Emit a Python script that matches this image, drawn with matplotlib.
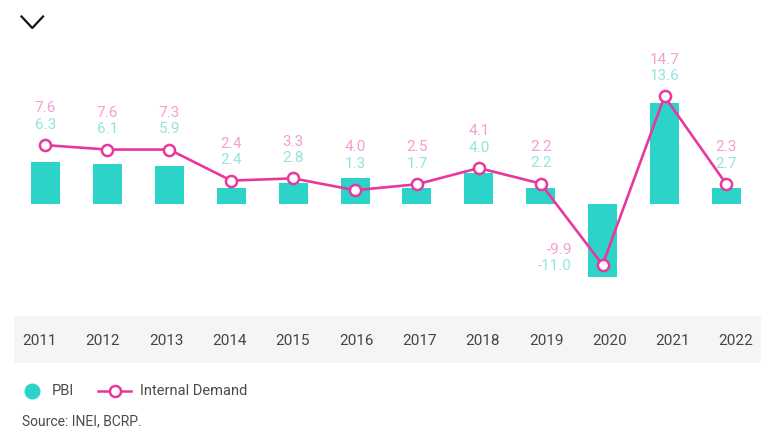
import matplotlib
matplotlib.use("Agg")
import matplotlib.pyplot as plt
from matplotlib.lines import Line2D

# ---- data ----
years = ["2011", "2012", "2013", "2014", "2015", "2016",
         "2017", "2018", "2019", "2020", "2021", "2022"]
pbi = [5.6, 5.3, 5.1, 2.1, 2.8, 3.5, 2.1, 4.1, 2.1, -10.0, 13.6, 2.1]
internal_demand = [7.9, 7.3, 7.3, 3.1, 3.4, 1.8, 2.6, 4.8, 2.7, -8.3, 14.5, 2.6]
pbi_labels = ["6.3", "6.1", "5.9", "2.4", "2.8", "1.3", "1.7", "4.0", "2.2", "-11.0", "13.6", "2.7"]
dd_labels = ["7.6", "7.6", "7.3", "2.4", "3.3", "4.0", "2.5", "4.1", "2.2", "-9.9", "14.7", "2.3"]

TEAL = "#2bd3c8"
PINK = "#e8389e"
TEAL_LBL = "#93e4df"
PINK_LBL = "#f49fcf"
FONT = ["Roboto", "DejaVu Sans"]

W, H = 761, 429
fig = plt.figure(figsize=(W / 100, H / 100), dpi=100)
plt.rcParams["font.family"] = FONT

def px_rect(x0, y0, x1, y1):
    return [x0 / W, (H - y1) / H, (x1 - x0) / W, (y1 - y0) / H]

# ---- main chart axes ----
ax = fig.add_axes(px_rect(0, 30, W, 310))
unit = 61.9
x0px = 45.5
ax.set_xlim(-x0px / unit, (W - x0px) / unit)
scale = 7.39
zero = 203.5 - 30
ax.set_ylim(-(280 - zero) / scale, zero / scale)
ax.axis("off")

xs = list(range(len(years)))
ax.bar(xs, pbi, width=29 / unit, color=TEAL, zorder=2)
ax.plot(xs, internal_demand, color=PINK, lw=1.9, marker="o", ms=8,
        mfc="white", mec=PINK, mew=1.8, zorder=3)

LBL = dict(textcoords="offset points", va="center", fontsize=11)
for i in xs:
    b, d = pbi[i], internal_demand[i]
    if b < 0 and d < 0:
        ax.annotate(pbi_labels[i], (i, d), xytext=(-22, -1), ha="right",
                    color=TEAL_LBL, **LBL)
        ax.annotate(dd_labels[i], (i, d), xytext=(-22, 11), ha="right",
                    color=PINK_LBL, **LBL)
        continue
    anchor = max(b, d)
    off = 10 + (4.5 if d >= b else 0)
    ax.annotate(pbi_labels[i], (i, anchor), xytext=(0, off), ha="center",
                color=TEAL_LBL, **LBL)
    ax.annotate(dd_labels[i], (i, anchor), xytext=(0, off + 12), ha="center",
                color=PINK_LBL, **LBL)

# ---- year band ----
bx = fig.add_axes(px_rect(14, 316, W, 363))
bx.set_facecolor("#f5f5f5")
u2 = 63.3
bx.set_xlim(-(39.7 - 14) / u2, (W - 39.7) / u2)
bx.set_ylim(0, 1)
for s in bx.spines.values():
    s.set_visible(False)
bx.set_xticks([])
bx.set_yticks([])
for i, y in enumerate(years):
    bx.text(i, 0.46, y, ha="center", va="center", color="#444444", fontsize=11)

# ---- overlay for decorations ----
ov = fig.add_axes([0, 0, 1, 1])
ov.set_xlim(0, W)
ov.set_ylim(H, 0)
ov.axis("off")
ov.patch.set_alpha(0)

# chevron
ov.add_line(Line2D([21.5, 32.3, 43], [16.5, 28, 16.5], color="#111111", lw=1.6))

# legend
ov.plot([32], [390.5], marker="o", ms=10.5, color=TEAL, mec=TEAL)
ov.text(52, 391, "PBI", ha="left", va="center", color="#4a4a4a", fontsize=10.5)
ov.add_line(Line2D([98, 131], [390.5, 390.5], color=PINK, lw=1.8))
ov.plot([115], [390.5], marker="o", ms=8, mfc="white", mec=PINK, mew=1.8)
ov.text(140, 391, "Internal Demand", ha="left", va="center", color="#4a4a4a",
        fontsize=10.5)

# source
ov.text(22, 421.5, "Source: INEI, BCRP.", ha="left", va="center", color="#4a4a4a",
        fontsize=10)

fig.savefig("out.png", dpi=100)
